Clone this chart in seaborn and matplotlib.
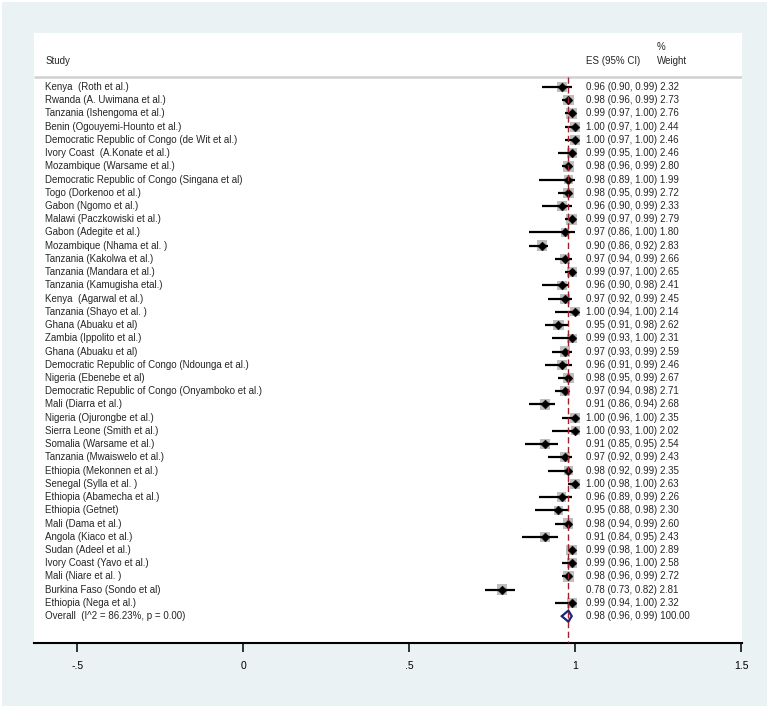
import numpy as np
import pandas as pd
import matplotlib
matplotlib.use('Agg')
import matplotlib.pyplot as plt
from matplotlib.patches import Rectangle
import seaborn as sns

# study data
studies = [
    'Kenya  (Roth et al.)', 'Rwanda (A. Uwimana et al.)', 'Tanzania (Ishengoma et al.)',
    'Benin (Ogouyemi-Hounto et al.)', 'Democratic Republic of Congo (de Wit et al.)',
    'Ivory Coast  (A.Konate et al.)', 'Mozambique (Warsame et al.)',
    'Democratic Republic of Congo (Singana et al)', 'Togo (Dorkenoo et al.)',
    'Gabon (Ngomo et al.)', 'Malawi (Paczkowiski et al.)', 'Gabon (Adegite et al.)',
    'Mozambique (Nhama et al. )', 'Tanzania (Kakolwa et al.)', 'Tanzania (Mandara et al.)',
    'Tanzania (Kamugisha etal.)', 'Kenya  (Agarwal et al.)', 'Tanzania (Shayo et al. )',
    'Ghana (Abuaku et al)', 'Zambia (Ippolito et al.)', 'Ghana (Abuaku et al)',
    'Democratic Republic of Congo (Ndounga et al.)', 'Nigeria (Ebenebe et al)',
    'Democratic Republic of Congo (Onyamboko et al.)', 'Mali (Diarra et al.)',
    'Nigeria (Ojurongbe et al.)', 'Sierra Leone (Smith et al.)', 'Somalia (Warsame et al.)',
    'Tanzania (Mwaiswelo et al.)', 'Ethiopia (Mekonnen et al.)', 'Senegal (Sylla et al. )',
    'Ethiopia (Abamecha et al.)', 'Ethiopia (Getnet)', 'Mali (Dama et al.)',
    'Angola (Kiaco et al.)', 'Sudan (Adeel et al.)', 'Ivory Coast (Yavo et al.)',
    'Mali (Niare et al. )', 'Burkina Faso (Sondo et al)', 'Ethiopia (Nega et al.)',
]
es = [0.96, 0.98, 0.99, 1.00, 1.00, 0.99, 0.98, 0.98, 0.98, 0.96,
      0.99, 0.97, 0.90, 0.97, 0.99, 0.96, 0.97, 1.00, 0.95, 0.99,
      0.97, 0.96, 0.98, 0.97, 0.91, 1.00, 1.00, 0.91, 0.97, 0.98,
      1.00, 0.96, 0.95, 0.98, 0.91, 0.99, 0.99, 0.98, 0.78, 0.99]
lo = [0.90, 0.96, 0.97, 0.97, 0.97, 0.95, 0.96, 0.89, 0.95, 0.90,
      0.97, 0.86, 0.86, 0.94, 0.97, 0.90, 0.92, 0.94, 0.91, 0.93,
      0.93, 0.91, 0.95, 0.94, 0.86, 0.96, 0.93, 0.85, 0.92, 0.92,
      0.98, 0.89, 0.88, 0.94, 0.84, 0.98, 0.96, 0.96, 0.73, 0.94]
hi = [0.99, 0.99, 1.00, 1.00, 1.00, 1.00, 0.99, 1.00, 0.99, 0.99,
      0.99, 1.00, 0.92, 0.99, 1.00, 0.98, 0.99, 1.00, 0.98, 1.00,
      0.99, 0.99, 0.99, 0.98, 0.94, 1.00, 1.00, 0.95, 0.99, 0.99,
      1.00, 0.99, 0.98, 0.99, 0.95, 1.00, 1.00, 0.99, 0.82, 1.00]
weights = [2.32, 2.73, 2.76, 2.44, 2.46, 2.46, 2.80, 1.99, 2.72, 2.33,
           2.79, 1.80, 2.83, 2.66, 2.65, 2.41, 2.45, 2.14, 2.62, 2.31,
           2.59, 2.46, 2.67, 2.71, 2.68, 2.35, 2.02, 2.54, 2.43, 2.35,
           2.63, 2.26, 2.30, 2.60, 2.43, 2.89, 2.58, 2.72, 2.81, 2.32]

overall_label = 'Overall  (I^2 = 86.23%, p = 0.00)'
overall_es, overall_lo, overall_hi, overall_w = 0.98, 0.96, 0.99, 100.00

xticks = [-0.5, 0, 0.5, 1, 1.5]
xtick_labels = ['-.5', '0', '.5', '1', '1.5']

df = pd.DataFrame({'study': studies, 'es': es, 'lo': lo, 'hi': hi, 'weight': weights})
df['row'] = np.arange(len(df))
overall_row = len(df)

sns.set_style('white')
plt.rcParams['font.family'] = ['Liberation Sans', 'DejaVu Sans']

W, H = 769, 709
fig = plt.figure(figsize=(W / 100, H / 100), dpi=100)
fig.patch.set_facecolor('white')
fig.patches.append(Rectangle((2 / W, 3 / H), 765 / W, 704 / H, transform=fig.transFigure,
                             facecolor='#EAF2F3', edgecolor='none', zorder=-10))

ax = fig.add_axes([34 / W, (H - 643) / H, (742 - 34) / W, (643 - 33) / H])
ax.set_facecolor('white')

# weight boxes (area ~ weight)
sns.scatterplot(data=df, x='es', y='row', size='weight', sizes=(0, 20.5 * 3), size_norm=(0, 3),
                marker='s', color='#BEBEBE', edgecolor='none', legend=False, ax=ax, zorder=2)
# confidence intervals
ax.hlines(df['row'], df['lo'], df['hi'], color='black', lw=1.6, zorder=3)
# point estimates
sns.scatterplot(data=df, x='es', y='row', marker='D', s=20, color='black',
                edgecolor='black', legend=False, ax=ax, zorder=4)

# overall diamond
h = 0.42
ax.fill([overall_lo, overall_es, overall_hi, overall_es],
        [overall_row, overall_row - h, overall_row, overall_row + h],
        fill=False, edgecolor='#1A237E', lw=1.6, zorder=4)

ymin, ymax = -4.08, 42.03
sep = -0.76
ax.vlines(overall_es, sep, ymax, color='#A0202A', lw=1.0, linestyles=(0, (4.5, 2.5)), zorder=5)
ax.hlines(sep, -0.63, 1.503, color='#D0D0D0', lw=1.8, zorder=1)

fs = 7
lab_x, es_x, w_x = -0.596, 1.033, 1.247
ax.text(lab_x, -1.97, 'Study', fontsize=fs, va='center')
ax.text(es_x, -1.97, 'ES (95% CI)', fontsize=fs, va='center')
ax.text(w_x, -3.02, '%', fontsize=fs, va='center')
ax.text(w_x, -1.97, 'Weight', fontsize=fs, va='center')

for _, r in df.iterrows():
    ax.text(lab_x, r['row'], r['study'], fontsize=fs, va='center')
    ax.text(es_x, r['row'], f"{r['es']:.2f} ({r['lo']:.2f}, {r['hi']:.2f}) {r['weight']:.2f}",
            fontsize=fs, va='center')
ax.text(lab_x, overall_row, overall_label, fontsize=fs, va='center')
ax.text(es_x, overall_row,
        f'{overall_es:.2f} ({overall_lo:.2f}, {overall_hi:.2f}) {overall_w:.2f}',
        fontsize=fs, va='center')

ax.set_xlim(-0.63, 1.503)
ax.set_ylim(ymax, ymin)
ax.set_xticks(xticks)
ax.set_xticklabels(xtick_labels)
ax.set_yticks([])
ax.set_xlabel('')
ax.set_ylabel('')
for s in ['top', 'left', 'right']:
    ax.spines[s].set_visible(False)
ax.spines['bottom'].set_color('black')
ax.spines['bottom'].set_linewidth(1.5)
ax.tick_params(axis='x', direction='out', length=6.5, width=1.1, pad=6.5,
               labelsize=7.5, colors='black', bottom=True)

fig.savefig('out.png', dpi=100, facecolor=fig.get_facecolor())
